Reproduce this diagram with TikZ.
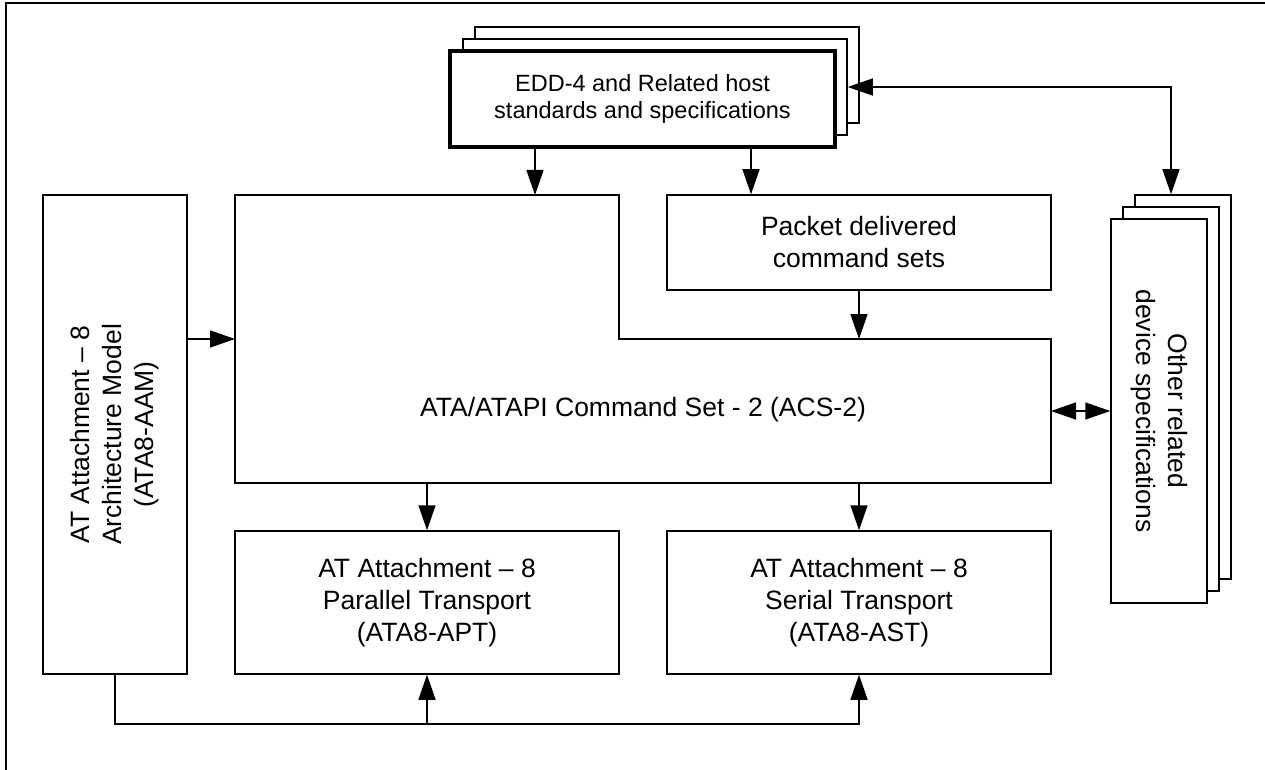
\documentclass[tikz,border=0pt]{standalone}
\usepackage{fontspec}
\setmainfont{Liberation Sans}
\usetikzlibrary{arrows.meta}
\begin{document}
\begin{tikzpicture}[x=1pt,y=-1pt,
  line width=1.5pt,
  >={Triangle[length=25pt,width=17pt]},
  box/.style={draw, fill=white, line width=1.5pt, align=center, inner sep=0pt,
    font=\fontsize{26.5}{32}\selectfont},
  txt/.style={align=center, inner sep=0pt, font=\fontsize{26.5}{32}\selectfont},
  eddbox/.style={box, minimum width=384pt, minimum height=96pt},
  othbox/.style={box, minimum width=96pt, minimum height=384pt},
  frame/.style={line width=2pt}]
\useasboundingbox (0,0) rectangle (1265,770);
% outer frame (only top and left edges visible)
\draw[frame] (1265,3) -- (6,3) -- (6,770);
% EDD stack
\node[eddbox] (edd3) at (667,75) {};
\node[eddbox] (edd2) at (655,87) {};
\node[box, line width=4.5pt, minimum width=385pt, minimum height=96pt,
  font=\fontsize{23.5}{27}\selectfont] (edd) at (642.5,99)
  {EDD-4 and Related host\\standards and specifications};
% Other related stack
\node[othbox] (oth3) at (1183,387) {};
\node[othbox] (oth2) at (1171,399) {};
\node[othbox] (oth) at (1159,411) {};
\node[txt, rotate=-90] (othtxt) at (oth) {Other related\\device specifications};
% ACS-2 polygon
\coordinate (acsTL) at (235,195);
\coordinate (acsS) at (619,339);
\coordinate (acsBR) at (1051,483);
\draw (acsTL) -- (acsTL -| acsS) -- (acsS) -- (acsS -| acsBR) -- (acsBR)
  -- (acsBR -| acsTL) -- cycle;
\node[txt] (acs) at (643,410) {ATA/ATAPI Command Set - 2 (ACS-2)};
% Packet
\node[box, minimum width=384pt, minimum height=95pt] (pkt) at (859,242.5)
  {Packet delivered\\command sets};
% AAM
\node[box, minimum width=144pt, minimum height=479pt] (aam) at (115,434.5) {};
\node[txt, rotate=90] (aamtxt) at (aam) {AT Attachment – 8\\Architecture Model\\(ATA8-AAM)};
% APT, AST
\node[box, minimum width=384pt, minimum height=143pt] (apt) at (427,602.5)
  {AT Attachment – 8\\Parallel Transport\\(ATA8-APT)};
\node[box, minimum width=384pt, minimum height=143pt] (ast) at (859,602.5)
  {AT Attachment – 8\\Serial Transport\\(ATA8-AST)};
% connectors
\coordinate (a1) at (535,195);
\draw[->] (a1 |- edd.south) -- (a1);
\coordinate (a2) at ([xshift=-108pt]pkt.north);
\draw[->] (a2 |- edd.south) -- (a2);
\draw[->] (pkt.south) -- (pkt.south |- acsS);
\coordinate (acsL) at (235,339);
\draw[->] (aam.east |- acsL) -- (acsL);
\draw[->] (apt.north |- acsBR) -- (apt.north);
\draw[->] (ast.north |- acsBR) -- (ast.north);
\coordinate (acsR) at (1051,411);
\draw[<->] (acsR) -- (oth.west);
\draw[<->] (edd2.east) -| ([xshift=-12pt]oth3.north);
\coordinate (busL) at ([yshift=-49pt]aam.south);
\draw[->] (aam.south) -- (busL) -| (ast.south);
\draw[->] (busL -| apt.south) -- (apt.south);
\end{tikzpicture}
\end{document}
